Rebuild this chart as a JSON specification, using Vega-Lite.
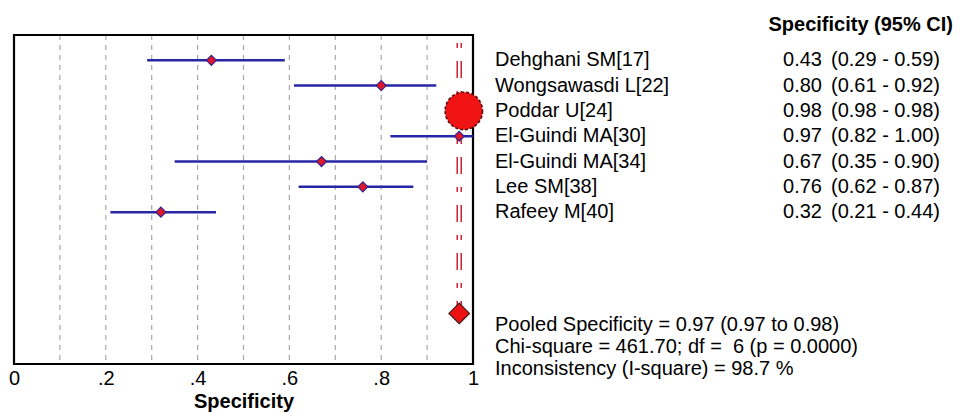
{
  "$schema": "https://vega.github.io/schema/vega-lite/v6.json",
  "padding": {"left": 8, "top": 14, "right": 5, "bottom": 5},
  "background": "white",
  "bounds": "flush",
  "spacing": 22,
  "config": {
    "font": "Liberation Sans",
    "view": {"stroke": null},
    "text": {"font": "Liberation Sans", "fontSize": 20, "color": "black"}
  },
  "datasets": {
    "studies": [
      {"study": "Dehghani SM[17]", "row": 1, "est": 0.43, "lo": 0.29, "hi": 0.59},
      {"study": "Wongsawasdi L[22]", "row": 2, "est": 0.80, "lo": 0.61, "hi": 0.92},
      {"study": "Poddar U[24]", "row": 3, "est": 0.98, "lo": 0.98, "hi": 0.98},
      {"study": "El-Guindi MA[30]", "row": 4, "est": 0.97, "lo": 0.82, "hi": 1.00},
      {"study": "El-Guindi MA[34]", "row": 5, "est": 0.67, "lo": 0.35, "hi": 0.90},
      {"study": "Lee SM[38]", "row": 6, "est": 0.76, "lo": 0.62, "hi": 0.87},
      {"study": "Rafeey M[40]", "row": 7, "est": 0.32, "lo": 0.21, "hi": 0.44}
    ],
    "pooled": [
      {"label": "Pooled", "first": 0, "row": 11, "est": 0.97, "lo": 0.97, "hi": 0.98}
    ],
    "notes": [
      {"row": 11, "note": "Pooled Specificity = 0.97 (0.97 to 0.98)\nChi-square = 461.70; df =\u00a0 6 (p = 0.0000)\nInconsistency (I-square) = 98.7 %"}
    ],
    "header": [
      {"row": -0.4, "header": "Specificity (95% CI)"}
    ],
    "grid": [
      {"g": 0.1}, {"g": 0.2}, {"g": 0.3}, {"g": 0.4}, {"g": 0.5},
      {"g": 0.6}, {"g": 0.7}, {"g": 0.8}, {"g": 0.9}
    ]
  },
  "hconcat": [
    {
      "width": 459,
      "height": 329,
      "layer": [
        {
          "data": {"name": "grid"},
          "mark": {"type": "rule", "color": "#a8a8a8", "strokeWidth": 1.2, "strokeDash": [5, 5]},
          "encoding": {
            "x": {
              "field": "g",
              "type": "quantitative",
              "scale": {"domain": [0, 1], "nice": false, "zero": false},
              "axis": {
                "values": [0, 0.2, 0.4, 0.6, 0.8, 1],
                "labelExpr": "datum.value == 0 ? '0' : datum.value == 1 ? '1' : replace(format(datum.value, '.1f'), '0.', '.')",
                "grid": false,
                "ticks": false,
                "domain": false,
                "labelFontSize": 20,
                "labelColor": "black",
                "labelPadding": 4,
                "labelFlush": false,
                "title": "Specificity",
                "titleFontSize": 20,
                "titleFontWeight": "bold",
                "titleColor": "black",
                "titlePadding": 3
              }
            }
          }
        },
        {
          "data": {"values": [{}]},
          "mark": {"type": "rect", "fill": null, "stroke": "black", "strokeWidth": 2.2},
          "encoding": {}
        },
        {
          "data": {"name": "pooled"},
          "mark": {"type": "rule", "color": "#cc2233", "strokeWidth": 1.5, "xOffset": -2, "strokeDash": [5, 13, 17, 13], "strokeDashOffset": 40},
          "encoding": {
            "x": {"field": "est", "type": "quantitative"},
            "y": {"field": "first", "type": "quantitative", "scale": {"domain": [0, 13], "reverse": true, "nice": false, "zero": false}, "axis": null},
            "y2": {"field": "row"}
          }
        },
        {
          "data": {"name": "pooled"},
          "mark": {"type": "rule", "color": "#cc2233", "strokeWidth": 1.5, "xOffset": 2, "strokeDash": [5, 13, 17, 13], "strokeDashOffset": 40},
          "encoding": {
            "x": {"field": "est", "type": "quantitative"},
            "y": {"field": "first", "type": "quantitative"},
            "y2": {"field": "row"}
          }
        },
        {
          "data": {"name": "studies"},
          "mark": {"type": "rule", "color": "#2626a6", "strokeWidth": 2.5},
          "encoding": {
            "x": {"field": "lo", "type": "quantitative"},
            "x2": {"field": "hi"},
            "y": {"field": "row", "type": "quantitative"}
          }
        },
        {
          "data": {"name": "studies"},
          "transform": [{"filter": "datum.study != 'Poddar U[24]'"}],
          "mark": {"type": "point", "shape": "diamond", "size": 100, "filled": true, "fill": "#e0162a", "stroke": "#33238f", "strokeWidth": 1.2, "opacity": 1},
          "encoding": {
            "x": {"field": "est", "type": "quantitative"},
            "y": {"field": "row", "type": "quantitative"}
          }
        },
        {
          "data": {"name": "studies"},
          "transform": [{"filter": "datum.study == 'Poddar U[24]'"}],
          "mark": {"type": "point", "shape": "circle", "size": 1400, "filled": true, "fill": "#f01414", "stroke": "#5a0a0a", "strokeWidth": 1.6, "strokeDash": [3, 2], "opacity": 1},
          "encoding": {
            "x": {"field": "est", "type": "quantitative"},
            "y": {"field": "row", "type": "quantitative"}
          }
        },
        {
          "data": {"name": "pooled"},
          "mark": {"type": "point", "shape": "diamond", "size": 420, "filled": true, "fill": "#ee1111", "stroke": "#3a1a1a", "strokeWidth": 1.2, "opacity": 1},
          "encoding": {
            "x": {"field": "est", "type": "quantitative"},
            "y": {"field": "row", "type": "quantitative"}
          }
        }
      ]
    },
    {
      "width": 460,
      "height": 329,
      "layer": [
        {
          "data": {"name": "header"},
          "mark": {"type": "text", "align": "right", "baseline": "middle", "fontWeight": "bold", "fontSize": 20},
          "encoding": {
            "x": {"value": 458},
            "y": {"field": "row", "type": "quantitative", "scale": {"domain": [0, 13], "reverse": true, "nice": false, "zero": false}, "axis": null},
            "text": {"field": "header", "type": "nominal"}
          }
        },
        {
          "data": {"name": "studies"},
          "mark": {"type": "text", "align": "left", "baseline": "middle"},
          "encoding": {
            "x": {"value": 0},
            "y": {"field": "row", "type": "quantitative"},
            "text": {"field": "study", "type": "nominal"}
          }
        },
        {
          "data": {"name": "studies"},
          "mark": {"type": "text", "align": "right", "baseline": "middle"},
          "encoding": {
            "x": {"value": 327},
            "y": {"field": "row", "type": "quantitative"},
            "text": {"field": "est", "type": "quantitative", "format": ".2f"}
          }
        },
        {
          "data": {"name": "studies"},
          "transform": [
            {"calculate": "'(' + format(datum.lo, '.2f') + '\u00a0-\u00a0' + format(datum.hi, '.2f') + ')'", "as": "ci"}
          ],
          "mark": {"type": "text", "align": "left", "baseline": "middle"},
          "encoding": {
            "x": {"value": 336},
            "y": {"field": "row", "type": "quantitative"},
            "text": {"field": "ci", "type": "nominal"}
          }
        },
        {
          "data": {"name": "notes"},
          "mark": {"type": "text", "align": "left", "baseline": "top", "lineBreak": "\n", "lineHeight": 22, "dy": 2},
          "encoding": {
            "x": {"value": 0},
            "y": {"field": "row", "type": "quantitative"},
            "text": {"field": "note", "type": "nominal"}
          }
        }
      ]
    }
  ]
}
